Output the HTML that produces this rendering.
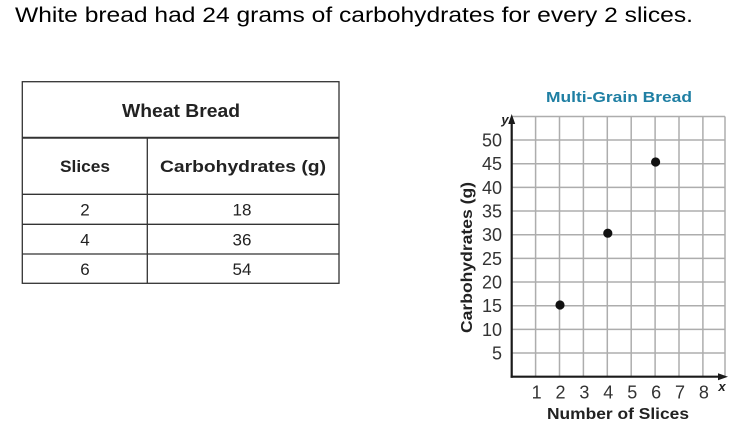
<!DOCTYPE html>
<html>
<head>
<meta charset="utf-8">
<style>
html,body{margin:0;padding:0;background:#fff;}
svg{display:block;}
</style>
</head>
<body>
<svg width="741" height="429" viewBox="0 0 741 429" xmlns="http://www.w3.org/2000/svg">
  <rect width="741" height="429" fill="#fff"/>
  <!-- Title sentence -->
  <text x="15" y="22" font-family="Liberation Sans, sans-serif" font-size="21" fill="#000" textLength="678" lengthAdjust="spacingAndGlyphs">White bread had 24 grams of carbohydrates for every 2 slices.</text>

  <!-- Table -->
  <g stroke="#333" fill="none">
    <rect x="22.3" y="81.7" width="316.7" height="201.6" stroke-width="1.3"/>
    <line x1="22.3" y1="137.7" x2="339" y2="137.7" stroke-width="2"/>
    <line x1="22.3" y1="194.3" x2="339" y2="194.3" stroke-width="1.3"/>
    <line x1="22.3" y1="224.3" x2="339" y2="224.3" stroke-width="1.3"/>
    <line x1="22.3" y1="254" x2="339" y2="254" stroke-width="1.3"/>
    <line x1="147.3" y1="137.7" x2="147.3" y2="283.3" stroke-width="1.3"/>
  </g>
  <g font-family="Liberation Sans, sans-serif" fill="#222" text-anchor="middle">
    <text x="181" y="117" font-size="18" font-weight="bold" textLength="118" lengthAdjust="spacingAndGlyphs">Wheat Bread</text>
    <text x="85" y="172" font-size="17" font-weight="bold" textLength="50" lengthAdjust="spacingAndGlyphs">Slices</text>
    <text x="243" y="172" font-size="17" font-weight="bold" textLength="166" lengthAdjust="spacingAndGlyphs">Carbohydrates (g)</text>
    <text x="85" y="215.5" font-size="17">2</text>
    <text x="242" y="215.5" font-size="17">18</text>
    <text x="85" y="245.5" font-size="17">4</text>
    <text x="242" y="245.5" font-size="17">36</text>
    <text x="85" y="275" font-size="17">6</text>
    <text x="242" y="275" font-size="17">54</text>
  </g>

  <!-- Chart title -->
  <text x="619" y="102" font-family="Liberation Sans, sans-serif" font-size="15" font-weight="bold" fill="#1f7fa3" text-anchor="middle" textLength="146" lengthAdjust="spacingAndGlyphs">Multi-Grain Bread</text>

  <!-- Grid -->
  <g stroke="#adadad" stroke-width="1.5">
    <line x1="535.6" y1="116.5" x2="535.6" y2="376.7"/>
    <line x1="559.5" y1="116.5" x2="559.5" y2="376.7"/>
    <line x1="583.4" y1="116.5" x2="583.4" y2="376.7"/>
    <line x1="607.3" y1="116.5" x2="607.3" y2="376.7"/>
    <line x1="631.2" y1="116.5" x2="631.2" y2="376.7"/>
    <line x1="655.1" y1="116.5" x2="655.1" y2="376.7"/>
    <line x1="679" y1="116.5" x2="679" y2="376.7"/>
    <line x1="702.9" y1="116.5" x2="702.9" y2="376.7"/>
    <line x1="725" y1="116.5" x2="725" y2="376.7"/>

    <line x1="511.7" y1="353" x2="725" y2="353"/>
    <line x1="511.7" y1="329.4" x2="725" y2="329.4"/>
    <line x1="511.7" y1="305.7" x2="725" y2="305.7"/>
    <line x1="511.7" y1="282" x2="725" y2="282"/>
    <line x1="511.7" y1="258.4" x2="725" y2="258.4"/>
    <line x1="511.7" y1="234.7" x2="725" y2="234.7"/>
    <line x1="511.7" y1="211" x2="725" y2="211"/>
    <line x1="511.7" y1="187.4" x2="725" y2="187.4"/>
    <line x1="511.7" y1="163.7" x2="725" y2="163.7"/>
    <line x1="511.7" y1="140" x2="725" y2="140"/>
    <line x1="511.7" y1="116.5" x2="725" y2="116.5"/>
  </g>

  <!-- Axes -->
  <g stroke="#1a1a1a" stroke-width="2.2">
    <line x1="511.7" y1="377.7" x2="511.7" y2="122"/>
    <line x1="510.6" y1="376.7" x2="720" y2="376.7"/>
  </g>
  <polygon points="511.7,114 508.2,124 515.2,124" fill="#1a1a1a"/>
  <polygon points="728,376.7 718,373.2 718,380.2" fill="#1a1a1a"/>

  <!-- Y tick labels -->
  <g font-family="Liberation Sans, sans-serif" font-size="18" fill="#333" text-anchor="end">
    <text x="502" y="146.5">50</text>
    <text x="502" y="170.2">45</text>
    <text x="502" y="193.9">40</text>
    <text x="502" y="217.5">35</text>
    <text x="502" y="241.2">30</text>
    <text x="502" y="264.9">25</text>
    <text x="502" y="288.5">20</text>
    <text x="502" y="312.2">15</text>
    <text x="502" y="335.9">10</text>
    <text x="502" y="359.5">5</text>
  </g>
  <!-- X tick labels -->
  <g font-family="Liberation Sans, sans-serif" font-size="18" fill="#333" text-anchor="middle">
    <text x="536.6" y="398.5">1</text>
    <text x="560.5" y="398.5">2</text>
    <text x="584.4" y="398.5">3</text>
    <text x="608.3" y="398.5">4</text>
    <text x="632.2" y="398.5">5</text>
    <text x="656.1" y="398.5">6</text>
    <text x="680" y="398.5">7</text>
    <text x="703.9" y="398.5">8</text>
  </g>
  <text x="722" y="391" font-family="Liberation Sans, sans-serif" font-size="13" font-style="italic" font-weight="bold" fill="#222" text-anchor="middle">x</text>
  <text x="505" y="124" font-family="Liberation Sans, sans-serif" font-size="13" font-style="italic" font-weight="bold" fill="#222" text-anchor="middle">y</text>

  <!-- Axis titles -->
  <text x="618" y="419" font-family="Liberation Sans, sans-serif" font-size="16" font-weight="bold" fill="#222" text-anchor="middle" textLength="142" lengthAdjust="spacingAndGlyphs">Number of Slices</text>
  <text x="0" y="0" transform="translate(472,257.5) rotate(-90)" font-family="Liberation Sans, sans-serif" font-size="16" font-weight="bold" fill="#222" text-anchor="middle" textLength="151" lengthAdjust="spacingAndGlyphs">Carbohydrates (g)</text>

  <!-- Points -->
  <g fill="#111">
    <circle cx="560" cy="305" r="4.6"/>
    <circle cx="607.8" cy="233.2" r="4.6"/>
    <circle cx="655.6" cy="162" r="4.6"/>
  </g>
</svg>
</body>
</html>
